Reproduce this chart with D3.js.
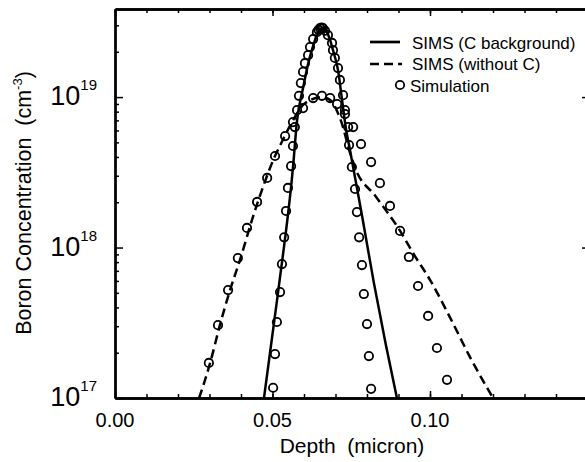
<!DOCTYPE html>
<html><head><meta charset="utf-8">
<script src="https://cdnjs.cloudflare.com/ajax/libs/d3/7.8.5/d3.min.js"></script>
<style>
html,body{margin:0;padding:0;background:#fff;}
svg{display:block;}
text{font-family:"Liberation Sans",Arial,Helvetica,sans-serif;fill:#000;}
</style></head><body>
<svg id="chart" width="585" height="462"></svg>
<script>
// ---- data (depth in micron, boron concentration in cm^-3) ----
const xTickValues = [0.00, 0.05, 0.10];
const xTickLabels = ["0.00", "0.05", "0.10"];
const yTickValues = [1e17, 1e18, 1e19];
const yTickExponents = ["17", "18", "19"];
const legendLabels = ["SIMS (C background)", "SIMS (without C)", "Simulation"];

const simsCBackground = [
  [0.0473,1.0e17],[0.0518,5.1e17],[0.0565,3.4e18],[0.0578,7.0e18],[0.0597,1.15e19],
  [0.0616,1.76e19],[0.0635,2.39e19],[0.0644,2.70e19],[0.0657,2.87e19],[0.0670,2.75e19],
  [0.0683,2.39e19],[0.0692,2.05e19],[0.0708,1.51e19],[0.0721,9.5e18],[0.0733,6.2e18],
  [0.0746,4.45e18],[0.0784,1.64e18],[0.0822,5.8e17],[0.0860,2.25e17],[0.0895,1.0e17]
];
const simsWithoutC = [
  [0.0267,1.0e17],[0.0302,1.71e17],[0.0333,3.05e17],[0.0365,5.2e17],[0.0397,8.3e17],
  [0.0438,1.6e18],[0.0470,2.53e18],[0.0502,3.8e18],[0.0533,5.2e18],[0.0565,7.0e18],
  [0.0603,9.1e18],[0.0657,1.0e19],[0.0683,9.55e18],[0.0708,7.8e18],[0.0724,6.3e18],
  [0.0740,4.7e18],[0.0762,3.4e18],[0.0829,2.17e18],[0.0905,1.29e18],[0.0946,9.2e17],
  [0.1000,6.1e17],[0.1063,3.45e17],[0.1127,1.87e17],[0.1200,1.0e17]
];
const simulationCBackground = [
  [0.0502,1.17e17],[0.0508,1.96e17],[0.0514,3.2e17],[0.0524,5.06e17],[0.0530,7.77e17],
  [0.0537,1.17e18],[0.0543,1.75e18],[0.0549,2.49e18],[0.0559,3.48e18],[0.0565,4.73e18],
  [0.0571,6.32e18],[0.0578,8.19e18],[0.0584,1.02e19],[0.0590,1.24e19],[0.0597,1.47e19],
  [0.0603,1.68e19],[0.0613,1.90e19],[0.0619,2.15e19],[0.0629,2.43e19],[0.0641,2.70e19],
  [0.0646,2.80e19],[0.0651,2.87e19],[0.0656,2.90e19],[0.0660,2.87e19],[0.0667,2.76e19],
  [0.0676,2.58e19],[0.0689,2.29e19],[0.0692,2.05e19],[0.0698,1.82e19],[0.0708,1.56e19],
  [0.0714,1.30e19],[0.0724,1.03e19],[0.0730,8.19e18],[0.0740,6.32e18],[0.0743,4.80e18],
  [0.0752,3.43e18],[0.0762,2.45e18],[0.0768,1.72e18],[0.0775,1.17e18],[0.0784,7.65e17],
  [0.0790,4.91e17],[0.0800,3.10e17],[0.0806,1.90e17],[0.0813,1.15e17]
];
const simulationWithoutC = [
  [0.0298,1.71e17],[0.0327,3.05e17],[0.0359,5.22e17],[0.0390,8.51e17],[0.0419,1.35e18],
  [0.0451,2.01e18],[0.0483,2.90e18],[0.0508,4.06e18],[0.0540,5.51e18],[0.0565,6.82e18],
  [0.0597,8.45e18],[0.0629,9.85e18],[0.0657,1.02e19],[0.0683,9.85e18],[0.0705,8.98e18],
  [0.0730,7.71e18],[0.0756,6.32e18],[0.0781,4.87e18],[0.0813,3.70e18],[0.0841,2.68e18],
  [0.0873,1.89e18],[0.0905,1.29e18],[0.0933,8.65e17],[0.0962,5.55e17],[0.0994,3.51e17],
  [0.1022,2.15e17],[0.1054,1.32e17]
];

// ---- layout ----
const L = 115, R = 588, T = 9, B = 398;
const svg = d3.select("#chart");
const x = d3.scaleLinear().domain([0, 0.15]).range([L, 587.5]);
const y = d3.scaleLog().domain([1e17, 3.85e19]).range([B, T]);

const frameW = 2.3;
const minorX = d3.range(0, 0.1501, 0.01);
function styleAxis(g){ g.select(".domain").attr("stroke","#000").attr("stroke-width",frameW);
  g.selectAll(".tick line").attr("stroke","#000").attr("stroke-width",1.5);
  g.selectAll(".tick text").remove(); }

svg.append("g").attr("transform",`translate(0,${B})`)
  .call(d3.axisBottom(x).tickValues(minorX).tickSize(-4).tickSizeOuter(0)).call(styleAxis);
svg.append("g").attr("transform",`translate(0,${B})`)
  .call(d3.axisBottom(x).tickValues(xTickValues).tickSize(-7).tickSizeOuter(0)).call(styleAxis);
svg.append("g").attr("transform",`translate(0,${T})`)
  .call(d3.axisTop(x).tickValues(minorX).tickSize(-4).tickSizeOuter(0)).call(styleAxis);
svg.append("g").attr("transform",`translate(0,${T})`)
  .call(d3.axisTop(x).tickValues(xTickValues).tickSize(-7).tickSizeOuter(0)).call(styleAxis);

const minorY = y.ticks().filter(v => yTickValues.indexOf(v) < 0);
svg.append("g").attr("transform",`translate(${L},0)`)
  .call(d3.axisLeft(y).tickValues(minorY).tickSize(-4).tickSizeOuter(0)).call(styleAxis);
svg.append("g").attr("transform",`translate(${L},0)`)
  .call(d3.axisLeft(y).tickValues(yTickValues).tickSize(-8).tickSizeOuter(0)).call(styleAxis);
// right frame lies just outside the picture: only the tips of the major ticks show
svg.append("g").attr("transform",`translate(${R},0)`)
  .call(d3.axisRight(y).tickValues([1e18, 1e19]).tickSize(-6).tickSizeOuter(0)).call(styleAxis)
  .select(".domain").remove();

// tick labels
svg.append("g").selectAll("text").data(xTickValues).join("text")
  .attr("x", d => x(d)).attr("y", B + 29).attr("text-anchor","middle")
  .attr("font-size", 20).text((d,i) => xTickLabels[i]);

const yl = svg.append("g").selectAll("text").data(yTickValues).join("text")
  .attr("x", 97).attr("y", d => y(d) + 8).attr("text-anchor","end").attr("font-size", 27);
yl.append("tspan").text("10");
yl.append("tspan").attr("font-size", 15).attr("dy", -15).text((d,i) => yTickExponents[i]);

// axis titles
svg.append("text").attr("x", 352).attr("y", 453).attr("text-anchor","middle")
  .attr("font-size", 21).style("white-space","pre").text("Depth  (micron)");
const yt = svg.append("text").attr("transform","translate(31,203) rotate(-90)")
  .attr("text-anchor","middle").attr("font-size", 21.5).style("white-space","pre");
yt.append("tspan").text("Boron Concentration  (cm");
yt.append("tspan").attr("font-size", 13).attr("dy", -9).text("-3");
yt.append("tspan").attr("dy", 9).text(")");

// lines
const line = d3.line().x(d => x(d[0])).y(d => y(d[1])).curve(d3.curveMonotoneX);
const plot = svg.append("g");
plot.append("path").datum(simsCBackground).attr("d", line)
  .attr("fill","none").attr("stroke","#000").attr("stroke-width",2.5);
plot.append("path").datum(simsWithoutC).attr("d", line)
  .attr("fill","none").attr("stroke","#000").attr("stroke-width",2.5).attr("stroke-dasharray","9,5");

// simulation circles
plot.append("g").selectAll("circle").data(simulationCBackground.concat(simulationWithoutC)).join("circle")
  .attr("cx", d => x(d[0])).attr("cy", d => y(d[1])).attr("r", 4.2)
  .attr("fill","none").attr("stroke","#000").attr("stroke-width",1.8);

// legend
const lg = svg.append("g");
lg.append("line").attr("x1",370).attr("x2",400).attr("y1",42).attr("y2",42)
  .attr("stroke","#000").attr("stroke-width",2.7);
lg.append("line").attr("x1",370).attr("x2",402).attr("y1",64).attr("y2",64)
  .attr("stroke","#000").attr("stroke-width",2.7).attr("stroke-dasharray","9,5");
lg.append("circle").attr("cx",400).attr("cy",85).attr("r",4.2)
  .attr("fill","none").attr("stroke","#000").attr("stroke-width",1.8);
const legendY = [49, 70, 92];
const legendX = [412, 412, 410];
lg.selectAll("text").data(legendLabels).join("text")
  .attr("x", (d,i) => legendX[i]).attr("y", (d,i) => legendY[i])
  .attr("font-size", 17).text(d => d);
</script>
</body></html>
